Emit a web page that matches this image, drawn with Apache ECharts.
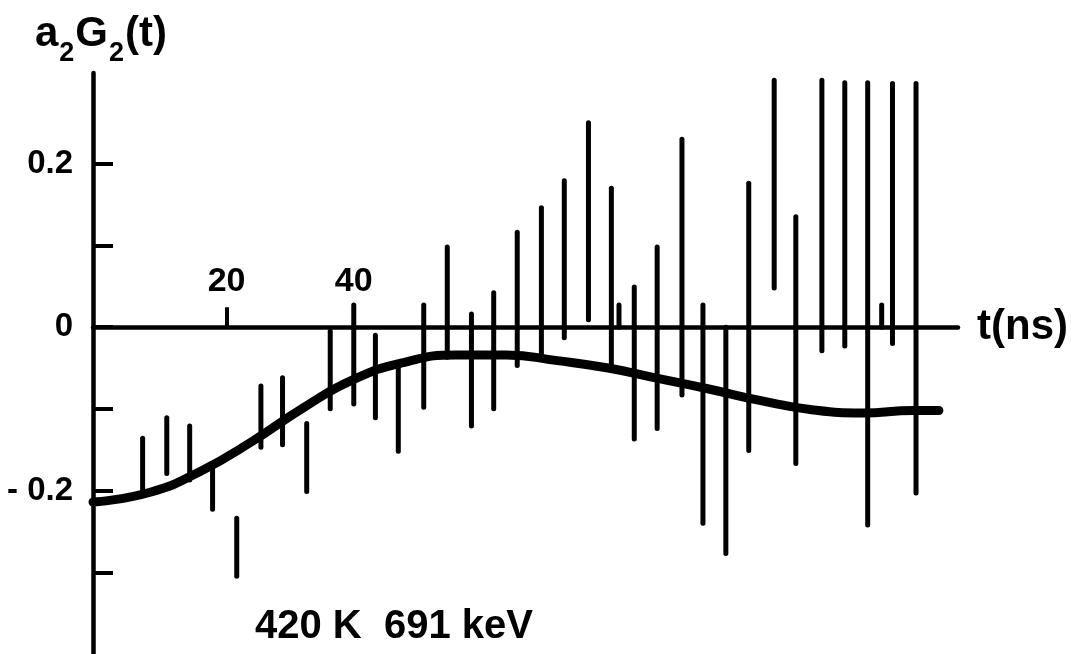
<!DOCTYPE html>
<html>
<head>
<meta charset="utf-8">
<script src="https://cdn.jsdelivr.net/npm/echarts@6/dist/echarts.min.js"></script>
<style>
html,body{margin:0;padding:0;background:#fff;}
#chart{width:1073px;height:654px;}
</style>
</head>
<body>
<div id="chart"></div>
<script>
// Error bars: time (ns), lower and upper ends of a2G2(t)
const barTimes = [6.8, 10.6, 14.2, 17.8, 21.6, 25.4, 28.8, 32.6, 36.3, 40.0, 43.4, 47.0, 51.0, 54.7, 58.5, 62.0, 65.7, 69.5, 73.1, 76.9, 80.5, 81.7, 84.1, 87.7, 91.6, 94.9, 98.5, 102.1, 106.1, 109.5, 113.6, 117.2, 120.8, 123.0, 124.7, 128.4];
const barHigh = [-0.136, -0.111, -0.121, -0.167, -0.234, -0.072, -0.062, -0.118, -0.005, 0.027, -0.010, -0.044, 0.027, 0.098, 0.016, 0.042, 0.116, 0.146, 0.179, 0.250, 0.170, 0.027, 0.049, 0.098, 0.230, 0.027, 0.000, 0.176, 0.302, 0.135, 0.302, 0.299, 0.299, 0.027, 0.298, 0.298];
const barLow = [-0.202, -0.179, -0.187, -0.223, -0.305, -0.147, -0.144, -0.201, -0.100, -0.094, -0.111, -0.152, -0.098, -0.037, -0.121, -0.100, -0.047, -0.036, -0.013, 0.009, -0.049, 0.000, -0.137, -0.124, -0.083, -0.240, -0.277, -0.151, 0.048, -0.167, -0.029, -0.023, -0.242, 0.000, -0.020, -0.203];

// Fitted curve
const curveTimes = [-1, 8, 16, 24, 32, 40, 48, 56, 64, 72, 80, 88, 96, 104, 112, 120, 128, 132];
const curveValues = [-0.214, -0.202, -0.176, -0.140, -0.099, -0.064, -0.043, -0.034, -0.034, -0.041, -0.050, -0.063, -0.076, -0.090, -0.101, -0.105, -0.102, -0.102];

// Axis ticks and labels
const xTickValues = [20, 40];
const xLabelValues = [20, 40];
const yTickValues = [-0.3, -0.2, -0.1, 0, 0.1, 0.2];
const yLabelValues = [-0.2, 0, 0.2];

const FONT = '"Liberation Sans", Arial, sans-serif';

const barData = barTimes.map((t, i) => [t, barLow[i], barHigh[i]]);
const curveData = curveTimes.map((t, i) => [t, curveValues[i]]);
const xLabelData = xLabelValues.map(v => [v, 0]);

const chart = echarts.init(document.getElementById('chart'), null, {renderer: 'canvas'});
chart.setOption({
  backgroundColor: '#ffffff',
  animation: false,
  title: {
    text: '{a|a}{s|2}{a|G}{s|2}{a|(t)}',
    left: 30, top: 8,
    textStyle: {
      rich: {
        a: {fontFamily: FONT, fontWeight: 'bold', fontSize: 42, color: '#000', verticalAlign: 'bottom'},
        s: {fontFamily: FONT, fontWeight: 'bold', fontSize: 27, color: '#000', padding: [0, 1, -12, 1], verticalAlign: 'bottom'}
      }
    }
  },
  graphic: [{
    type: 'text', left: 255, top: 607,
    style: {text: '420 K  691 keV', fontFamily: FONT, fontWeight: 'bold', fontSize: 40, fill: '#000'}
  }],
  grid: {left: 93, right: 115, top: 73, bottom: 0, containLabel: false},
  xAxis: {
    type: 'value', min: -1, max: 135,
    name: 't(ns)', nameLocation: 'end', nameGap: 19,
    nameTextStyle: {fontFamily: FONT, fontWeight: 'bold', fontSize: 42, color: '#000', verticalAlign: 'middle'},
    axisLine: {onZero: true, lineStyle: {color: '#000', width: 4.5}},
    axisTick: {show: true, inside: true, length: 20, customValues: xTickValues, lineStyle: {color: '#000', width: 4}},
    axisLabel: {show: false},
    splitLine: {show: false}
  },
  yAxis: {
    type: 'value', min: -0.4, max: 0.311,
    axisLine: {onZero: false, lineStyle: {color: '#000', width: 4.5}},
    axisTick: {show: true, inside: true, length: 20, customValues: yTickValues, lineStyle: {color: '#000', width: 4}},
    axisLabel: {show: true, margin: 20, customValues: yLabelValues, fontFamily: FONT, fontWeight: 'bold', fontSize: 33, color: '#000',
      formatter: function (v) { return v < 0 ? '- ' + Math.abs(v).toFixed(1) : (v === 0 ? '0' : v.toFixed(1)); }},
    splitLine: {show: false}
  },
  series: [
    {
      type: 'custom',
      data: barData,
      encode: {x: 0, y: [1, 2]},
      renderItem: function (params, api) {
        const t = api.value(0), lo = api.value(1), hi = api.value(2);
        const p1 = api.coord([t, hi]);
        const p2 = api.coord([t, lo]);
        return {
          type: 'line',
          shape: {x1: p1[0], y1: p1[1], x2: p2[0], y2: p2[1]},
          style: {stroke: '#000', lineWidth: 5, lineCap: 'round'}
        };
      },
      z: 3
    },
    {
      type: 'line',
      data: curveData,
      smooth: 0.5,
      showSymbol: false,
      symbol: 'none',
      lineStyle: {color: '#000', width: 9, cap: 'round'},
      z: 4
    },
    {
      type: 'scatter',
      data: xLabelData,
      symbolSize: 0,
      silent: true,
      itemStyle: {opacity: 1, color: '#000'},
      label: {
        show: true, position: 'top', distance: 29,
        formatter: function (p) { return String(p.value[0]); },
        fontFamily: FONT, fontWeight: 'bold', fontSize: 34, color: '#000', opacity: 1
      },
      z: 5
    }
  ]
});
</script>
</body>
</html>
